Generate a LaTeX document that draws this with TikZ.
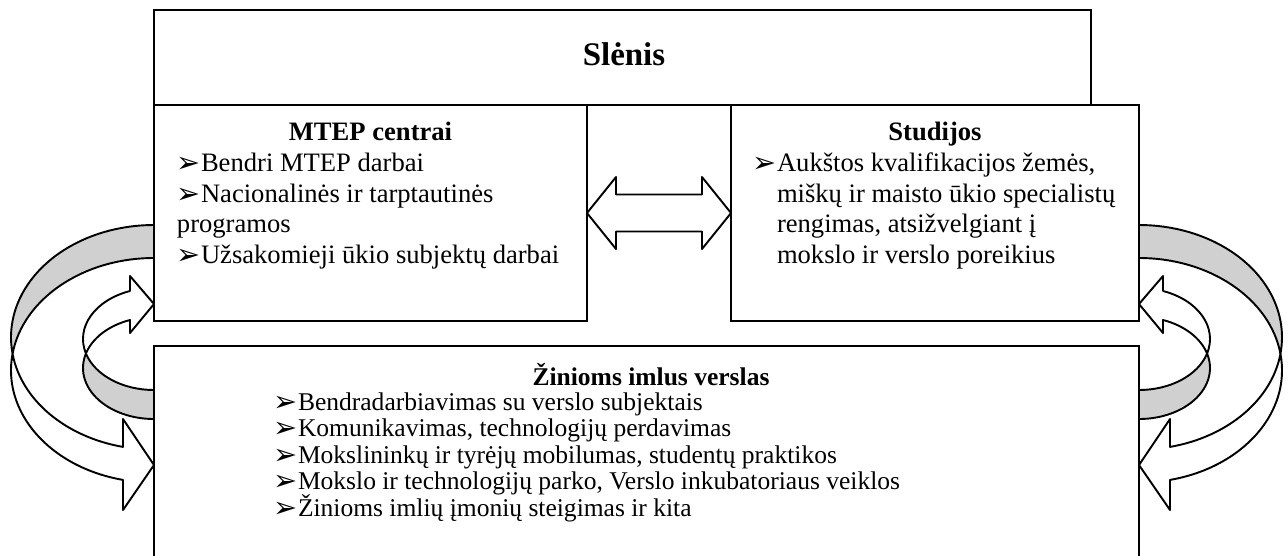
\documentclass[tikz,border=0pt]{standalone}
\usepackage{fontspec}
\setmainfont{Liberation Serif}
\newfontfamily\dingfont{DejaVu Sans}
\usetikzlibrary{calc}

\newcommand{\pxl}{0.47pt}
\newcommand{\pointer}{\makebox[11.3pt][l]{\raisebox{-0.6pt}{\dingfont\fontsize{13.5}{13.5}\selectfont ➢}}}
\definecolor{backgray}{RGB}{208,208,208}

\tikzset{
  pics/loopback/.style={code={
    % big loop: back side, then front side with head
    \path[ribbonback] (0,225) arc[start angle=270, end angle=171.55, x radius=143, y radius=112.3]
      arc[start angle=188.45, end angle=270, x radius=143, y radius=112.3] -- cycle;
    \path[ribbon] (-31,446.9) -- (-31,419) -- (0,465) -- (-31,510) -- (-31,479.9)
      arc[start angle=102.52, end angle=188.45, x radius=143, y radius=112.3]
      arc[start angle=171.55, end angle=102.52, x radius=143, y radius=112.3] -- cycle;
    % small loop
    \path[ribbonback] (0,390) arc[start angle=90, end angle=163.48, x radius=71, y radius=51]
      arc[start angle=196.52, end angle=90, x radius=71, y radius=51] -- cycle;
    \path[ribbon] (-24,291) -- (-24,276) -- (0,304) -- (-24,333) -- (-24,320)
      arc[start angle=250.24, end angle=196.52, x radius=71, y radius=51]
      arc[start angle=163.48, end angle=250.24, x radius=71, y radius=51] -- cycle;
  }}
}

\begin{document}
\begin{tikzpicture}[x=0.47pt, y=-0.47pt, line width=0.9pt,
  box/.style={draw, rectangle, anchor=north west, inner sep=0pt, outer sep=0pt},
  boxtitle/.style={anchor=base, inner sep=0pt, font=\bfseries\fontsize{12.5}{14}\selectfont},
  listline/.style={anchor=base west, inner sep=0pt, text height=9pt, text depth=2.5pt,
    font=\fontsize{12.5}{14}\selectfont},
  ribbon/.style={draw, fill=white, line join=round},
  ribbonback/.style={draw, fill=backgray, line join=round}]
  \useasboundingbox (0,0) rectangle (1288,555);
  \clip (0,0) rectangle (1288,555);

  % boxes
  \node[box, minimum width=937*\pxl, minimum height=95*\pxl] (valley) at (154,10) {};
  \node[box, minimum width=433*\pxl, minimum height=216*\pxl] (mtep) at (154,105) {};
  \node[box, minimum width=408*\pxl, minimum height=216*\pxl] (stud) at (731,105) {};
  \node[box, minimum width=985*\pxl, minimum height=230*\pxl] (biz) at (154,346) {};

  % titles
  \node[boxtitle, font=\bfseries\fontsize{15.5}{17}\selectfont] (valleytitle) at (624,65.5) {Slėnis};
  \node[boxtitle] (mteptitle) at (370.5,140.7) {MTEP centrai};
  \node[boxtitle] (studtitle) at (935,140.7) {Studijos};
  \node[boxtitle, font=\bfseries\fontsize{12}{14}\selectfont] (biztitle) at (651,385) {Žinioms imlus verslas};

  \node[listline] (mtep1) at (176,171.5) {\pointer Bendri MTEP darbai};
  \node[listline] (mtep2) at (176,202) {\pointer Nacionalinės ir tarptautinės};
  \node[listline] (mtep3) at (176,232.5) {programos};
  \node[listline] (mtep4) at (176,263) {\pointer Užsakomieji ūkio subjektų darbai};

  \node[listline] (stud1) at (752,171.5) {\pointer Aukštos kvalifikacijos žemės,};
  \node[listline] (stud2) at (752,202) {\phantom{\pointer}miškų ir maisto ūkio specialistų};
  \node[listline] (stud3) at (752,232.5) {\phantom{\pointer}rengimas, atsižvelgiant į};
  \node[listline] (stud4) at (752,263) {\phantom{\pointer}mokslo ir verslo poreikius};

  \node[listline, font=\fontsize{12}{14}\selectfont] (biz1) at (273,410) {\pointer Bendradarbiavimas su verslo subjektais};
  \node[listline, font=\fontsize{12}{14}\selectfont] (biz2) at (273,436.5) {\pointer Komunikavimas, technologijų perdavimas};
  \node[listline, font=\fontsize{12}{14}\selectfont] (biz3) at (273,463) {\pointer Mokslininkų ir tyrėjų mobilumas, studentų praktikos};
  \node[listline, font=\fontsize{12}{14}\selectfont] (biz4) at (273,489.5) {\pointer Mokslo ir technologijų parko, Verslo inkubatoriaus veiklos};
  \node[listline, font=\fontsize{12}{14}\selectfont] (biz5) at (273,516.5) {\pointer Žinioms imlių įmonių steigimas ir kita};

  % two-way arrow
  \path[ribbon] (mtep.east) -- ++(29,-36) -- ++(0,17.5) -- ($(stud.west)+(-29,-18.5)$) -- ++(0,-17.5)
    -- (stud.west) -- ++(-29,36) -- ++(0,-17.5) -- ($(mtep.east)+(29,18.5)$) -- ++(0,17.5) -- cycle;

  % loops on both sides
  \pic at (154,0) {loopback};
  \pic[xscale=-1] at (1139,0) {loopback};
\end{tikzpicture}
\end{document}
